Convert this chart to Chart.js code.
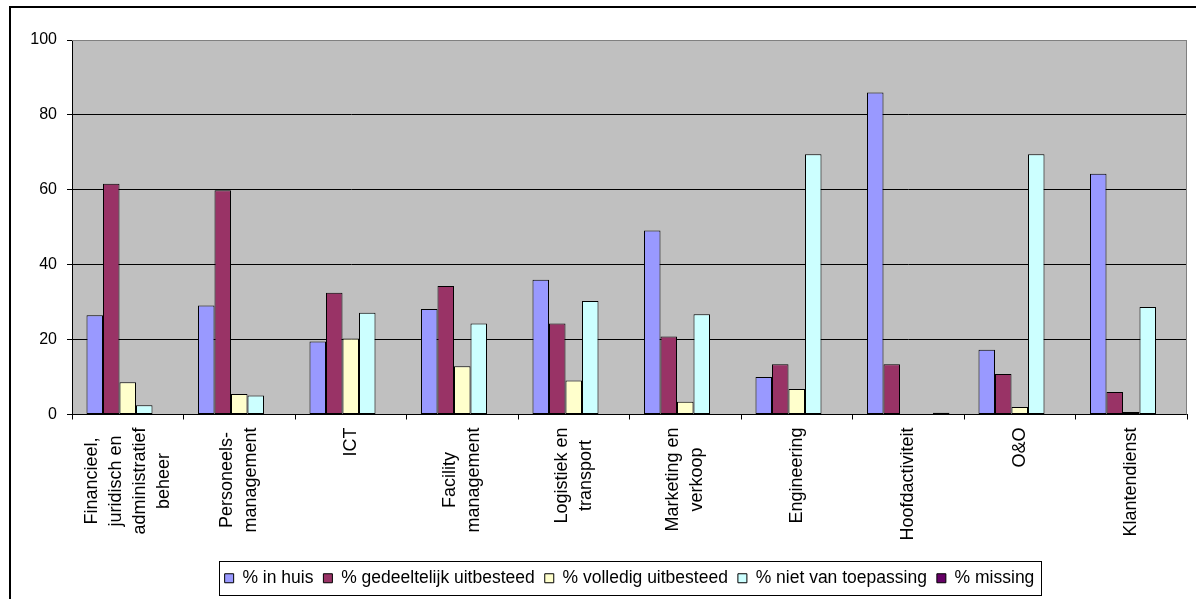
<!DOCTYPE html>
<html>
<head>
<meta charset="utf-8">
<script src="https://cdn.jsdelivr.net/npm/chart.js@4/dist/chart.umd.min.js"></script>
<style>
  html, body { margin: 0; padding: 0; background: #fff; }
  #wrap { width: 1196px; height: 599px; position: relative; }
</style>
</head>
<body>
<div id="wrap"><canvas id="c" width="1196" height="599"></canvas></div>
<script>
const categories = [
  ["Financieel,", "juridisch en", "administratief", "beheer"],
  ["Personeels-", "management"],
  ["ICT"],
  ["Facility", "management"],
  ["Logistiek en", "transport"],
  ["Marketing en", "verkoop"],
  ["Engineering"],
  ["Hoofdactiviteit"],
  ["O&O"],
  ["Klantendienst"]
];
const seriesNames = ["% in huis", "% gedeeltelijk uitbesteed", "% volledig uitbesteed", "% niet van toepassing", "% missing"];
const inHuis       = [26.5, 29.1, 19.5, 28.2, 36.0, 49.1, 10.0, 86.0, 17.3, 64.3];
const gedeeltelijk = [61.6, 59.9, 32.5, 34.3, 24.3, 20.8, 13.4, 13.4, 10.8, 6.0];
const volledig     = [8.6, 5.5, 20.3, 12.9, 9.1, 3.4, 6.8, 0, 2.0, 0.7];
const nietVan      = [2.5, 5.1, 27.2, 24.3, 30.3, 26.8, 69.5, 0, 69.5, 28.7];
const missing      = [0, 0, 0, 0, 0, 0, 0, 0.5, 0, 0];
const yTicks = [0, 20, 40, 60, 80, 100];

const colors = ["#9999FF", "#993366", "#FFFFCC", "#CCFFFF", "#660066"];
const seriesData = [inHuis, gedeeltelijk, volledig, nietVan, missing];

const FONT = "Liberation Sans, Arial, sans-serif";

const framePlugin = {
  id: "framePlugin",
  beforeDraw(chart) {
    const ctx = chart.ctx, a = chart.chartArea;
    ctx.save();
    ctx.fillStyle = "#fff";
    ctx.fillRect(0, 0, chart.width, chart.height);
    ctx.fillStyle = "#C0C0C0";
    ctx.fillRect(a.left, a.top, a.right - a.left, a.bottom - a.top);
    ctx.restore();
  },
  beforeDatasetsDraw(chart) {
    const ctx = chart.ctx, a = chart.chartArea;
    ctx.save();
    ctx.strokeStyle = "#808080";
    ctx.lineWidth = 1;
    ctx.beginPath();
    ctx.moveTo(a.left, a.top + 0.5);
    ctx.lineTo(a.right - 0.5, a.top + 0.5);
    ctx.lineTo(a.right - 0.5, a.bottom);
    ctx.stroke();
    ctx.restore();
  },
  afterDraw(chart) {
    const ctx = chart.ctx;
    const xs = chart.scales.x;
    ctx.save();
    ctx.font = "18px " + FONT;
    ctx.fillStyle = "#000";
    const lh = 24;
    categories.forEach((lines, i) => {
      const px = xs.getPixelForTick(i);
      let maxW = 0;
      lines.forEach(l => { maxW = Math.max(maxW, ctx.measureText(l).width); });
      ctx.save();
      ctx.translate(px, xs.top + 13);
      ctx.rotate(-Math.PI / 2);
      ctx.textAlign = "center";
      ctx.textBaseline = "middle";
      lines.forEach((l, j) => {
        ctx.fillText(l, -maxW / 2, (j - (lines.length - 1) / 2) * lh);
      });
      ctx.restore();
    });
    ctx.restore();
    const lg = chart.legend;
    if (lg && lg.legendHitBoxes && lg.legendHitBoxes.length) {
      const hb = lg.legendHitBoxes;
      let l = Infinity, r = -Infinity, cy = 0;
      hb.forEach(b => { l = Math.min(l, b.left); r = Math.max(r, b.left + b.width); cy += b.top + b.height / 2; });
      cy /= hb.length;
      ctx.save();
      ctx.strokeStyle = "#000";
      ctx.lineWidth = 1;
      ctx.strokeRect(Math.round(l - 6) + 0.5, Math.round(cy - 17) + 0.5, Math.round(r - l + 12), 34);
      ctx.restore();
    }
    ctx.save();
    ctx.strokeStyle = "#000";
    ctx.lineWidth = 2;
    ctx.strokeRect(10, 7, 1300, 700);
    ctx.restore();
  }
};

new Chart(document.getElementById("c"), {
  type: "bar",
  data: {
    labels: categories,
    datasets: seriesData.map((d, i) => ({
      label: seriesNames[i],
      data: d,
      backgroundColor: colors[i],
      borderColor: "#000",
      borderWidth: 1,
      borderSkipped: false,
      categoryPercentage: 0.74,
      barPercentage: 1.0
    }))
  },
  options: {
    responsive: false,
    animation: false,
    devicePixelRatio: 1,
    layout: { padding: { left: 0, top: 40, right: 9, bottom: 2 } },
    plugins: {
      tooltip: { enabled: false },
      legend: {
        position: "bottom",
        fullSize: false,
        labels: {
          boxWidth: 9, boxHeight: 9, padding: 10,
          color: "#000",
          font: { family: FONT, size: 17.5 }
        }
      }
    },
    scales: {
      x: {
        grid: { offset: true, drawOnChartArea: false, drawTicks: true, tickLength: 5, color: "#000" },
        border: { display: true, color: "#000", width: 1 },
        ticks: { callback: () => "", font: { size: 1 } },
        afterFit(scale) { scale.height = 145; }
      },
      y: {
        min: 0, max: 100,
        afterBuildTicks(scale) { scale.ticks = yTicks.map(v => ({ value: v })); },
        grid: {
          color: ctx => (ctx.tick && ctx.tick.value === 100) ? "#808080" : "#000",
          tickColor: "#000",
          tickLength: 5, lineWidth: 1
        },
        border: { display: true, color: "#000", width: 1 },
        ticks: { color: "#000", padding: 10, font: { family: FONT, size: 16 } },
        afterFit(scale) { scale.width = 72; }
      }
    }
  },
  plugins: [framePlugin]
});
</script>
</body>
</html>
